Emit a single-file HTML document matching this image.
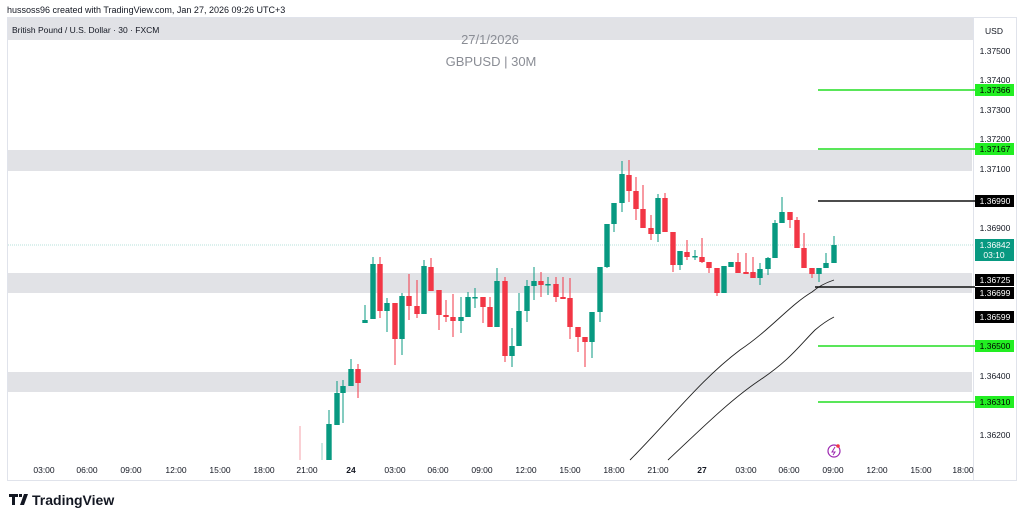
<!DOCTYPE html>
<html><head><meta charset="utf-8"><style>
html,body{margin:0;padding:0;background:#fff;}
svg{display:block;font-family:"Liberation Sans",sans-serif;}
</style></head><body>
<svg id="s" width="1024" height="522" viewBox="0 0 1024 522" xmlns="http://www.w3.org/2000/svg">
<rect width="1024" height="522" fill="#fff"/>
<text x="7" y="13" font-size="9" fill="#131722">hussoss96 created with TradingView.com, Jan 27, 2026 09:26 UTC+3</text>
<rect x="7.5" y="17.5" width="1009" height="463" fill="none" stroke="#e0e3eb"/>
<line x1="973.5" y1="18" x2="973.5" y2="480" stroke="#e0e3eb"/>
<rect x="8" y="18" width="965" height="22" fill="#e1e2e6"/>
<text x="12" y="33" font-size="8.5" fill="#131722">British Pound / U.S. Dollar · 30 · FXCM</text>
<text x="490" y="44" font-size="13" fill="#8a8d95" text-anchor="middle">27/1/2026</text>
<text x="491" y="66" font-size="13" fill="#8a8d95" text-anchor="middle">GBPUSD | 30M</text>
<rect x="8" y="150" width="964" height="21" fill="#e1e2e6"/>
<rect x="8" y="273" width="964" height="20" fill="#e1e2e6"/>
<rect x="8" y="372" width="964" height="20" fill="#e1e2e6"/>
<line x1="8" y1="245" x2="973" y2="245" stroke="#9fd8cf" stroke-width="0.8" stroke-dasharray="1,1"/>
<line x1="300" y1="426" x2="300" y2="460" stroke="#f5a0a8" stroke-width="1"/>
<line x1="322" y1="443" x2="322" y2="460" stroke="#8fd0c4" stroke-width="1"/>
<g id="c"></g>
<path d="M630 460 C670 420 700 380 740 350 C770 330 790 305 812 292 C820 285 828 282 834 280" fill="none" stroke="#222" stroke-width="0.9"/>
<path d="M668 460 C700 430 730 400 760 380 C790 360 800 345 815 330 C822 324 828 320 834 317" fill="none" stroke="#222" stroke-width="0.9"/>
<g stroke-width="1.6">
<line x1="818" y1="90" x2="975" y2="90" stroke="#22dd22"/>
<line x1="818" y1="149" x2="975" y2="149" stroke="#22dd22"/>
<line x1="818" y1="346" x2="975" y2="346" stroke="#22dd22"/>
<line x1="818" y1="402" x2="975" y2="402" stroke="#22dd22"/>
<line x1="818" y1="201" x2="975" y2="201" stroke="#111"/>
<line x1="815" y1="287" x2="975" y2="287" stroke="#111"/>
</g>
<g font-size="8.5" fill="#131722" text-anchor="middle">
<text x="994" y="34">USD</text>
<text x="995" y="54">1.37500</text>
<text x="995" y="83">1.37400</text>
<text x="995" y="113">1.37300</text>
<text x="995" y="142">1.37200</text>
<text x="995" y="172">1.37100</text>
<text x="995" y="231">1.36900</text>
<text x="995" y="379">1.36400</text>
<text x="995" y="438">1.36200</text>
</g>
<g font-size="8.5" text-anchor="middle">
<rect x="975" y="84" width="39" height="12" fill="#22ee22"/><text x="995" y="93" fill="#000">1.37366</text>
<rect x="975" y="143" width="39" height="12" fill="#22ee22"/><text x="995" y="152" fill="#000">1.37167</text>
<rect x="975" y="195" width="39" height="12" fill="#000"/><text x="995" y="204" fill="#fff">1.36990</text>
<rect x="975" y="239" width="39" height="22" fill="#089981"/><text x="995" y="248" fill="#fff">1.36842</text><text x="994" y="258" fill="#fff">03:10</text>
<rect x="975" y="274" width="39" height="12" fill="#000"/><text x="995" y="283" fill="#fff">1.36725</text>
<rect x="975" y="287" width="39" height="12" fill="#000"/><text x="995" y="296" fill="#fff">1.36699</text>
<rect x="975" y="311" width="39" height="12" fill="#000"/><text x="995" y="320" fill="#fff">1.36599</text>
<rect x="975" y="340" width="39" height="12" fill="#22ee22"/><text x="995" y="349" fill="#000">1.36500</text>
<rect x="975" y="396" width="39" height="12" fill="#22ee22"/><text x="995" y="405" fill="#000">1.36310</text>
</g>
<g font-size="8.5" fill="#131722" text-anchor="middle">
<text x="44" y="473">03:00</text><text x="87" y="473">06:00</text><text x="131" y="473">09:00</text>
<text x="176" y="473">12:00</text><text x="220" y="473">15:00</text><text x="264" y="473">18:00</text>
<text x="307" y="473">21:00</text><text x="351" y="473" font-weight="bold">24</text><text x="395" y="473">03:00</text>
<text x="438" y="473">06:00</text><text x="482" y="473">09:00</text><text x="526" y="473">12:00</text>
<text x="570" y="473">15:00</text><text x="614" y="473">18:00</text><text x="658" y="473">21:00</text>
<text x="702" y="473" font-weight="bold">27</text><text x="746" y="473">03:00</text><text x="789" y="473">06:00</text>
<text x="833" y="473">09:00</text><text x="877" y="473">12:00</text><text x="921" y="473">15:00</text><text x="963" y="473">18:00</text>
</g>
<circle cx="834" cy="451" r="6" fill="none" stroke="#9c27b0" stroke-width="1.2"/>
<path d="M835 447 L832 452 L835 452 L833 455" fill="none" stroke="#9c27b0" stroke-width="1"/>
<circle cx="838" cy="446" r="1.8" fill="#f23645"/>
<path d="M9 494 h9 v3 h-3 v8 h-3 v-8 h-3z M19 494 h3 v3 h-3z M24 494 h4 l-4 11 h-4z" fill="#131722"/>
<text x="32" y="505" font-size="14" font-weight="bold" fill="#131722">TradingView</text>
</svg>
<script>
var d=[
[329,424,460,410,460,1],[337,393,425,381,425,1],[343,386,393,380,423,1],
[351,369,386,359,386,1],[358,369,383,364,398,0],[365,320,323,305,323,1],[373,264,319,257,319,1],[380,264,311,257,318,0],
[387,303,311,298,332,1],[395,303,339,303,365,0],[402,296,339,293,355,1],[409,296,306,274,320,0],[417,306,314,280,318,0],
[424,266,314,260,314,1],[431,267,291,258,291,0],[439,290,315,290,330,0],[446,315,317,300,322,0],[453,317,321,294,337,0],
[461,317,321,297,333,1],[468,297,317,292,317,1],[475,297,297,288,308,1],[483,297,307,297,323,0],[490,307,327,297,327,0],
[497,281,327,268,327,1],[505,281,356,277,362,0],[512,346,356,328,367,1],[519,311,346,293,346,1],[527,286,311,280,322,1],
[534,281,286,267,300,1],[541,281,285,272,297,0],[548,284,284,277,295,1],[556,284,297,277,302,0],[563,297,299,277,299,0],
[570,298,327,278,339,0],[578,327,337,327,352,0],[585,337,342,337,367,0],[592,312,342,312,358,1],[600,267,312,267,322,1],
[607,224,267,224,268,1],[614,203,224,203,232,1],[622,174,203,161,212,1],
[629,175,191,160,202,0],[636,191,209,177,220,0],[643,209,228,185,228,0],[651,228,234,215,240,0],[658,198,234,194,242,1],
[665,198,232,193,232,0],[673,232,265,232,272,0],[680,251,265,251,270,1],[687,252,257,240,260,0],[695,256,256,250,260,1],
[702,257,262,238,263,0],[709,262,268,262,273,0],[717,268,293,268,296,0],[724,266,293,266,293,1],[731,262,267,262,267,1],
[738,262,273,253,273,0],[746,272,274,253,274,0],[753,272,278,257,278,0],[760,269,278,263,285,1],[768,258,269,257,275,1],
[775,223,258,220,258,1],[782,212,223,197,223,1],[790,212,220,212,228,0],[797,220,248,217,248,0],[804,248,268,233,268,0],
[812,268,274,268,278,0],[819,268,274,268,282,1],[826,263,268,253,268,1],[834,245,263,236,263,1]];
var g=document.getElementById('c'),h='';
d.forEach(function(c){var col=c[5]?'#089981':'#f23645';
h+='<line x1="'+c[0]+'" y1="'+c[3]+'" x2="'+c[0]+'" y2="'+c[4]+'" stroke="'+col+'" stroke-width="1"/>';
var hh=Math.max(c[2]-c[1],1.5);h+='<rect x="'+(c[0]-2.7)+'" y="'+c[1]+'" width="5.4" height="'+hh+'" fill="'+col+'"/>';});
g.innerHTML=h;
</script>
</body></html>
